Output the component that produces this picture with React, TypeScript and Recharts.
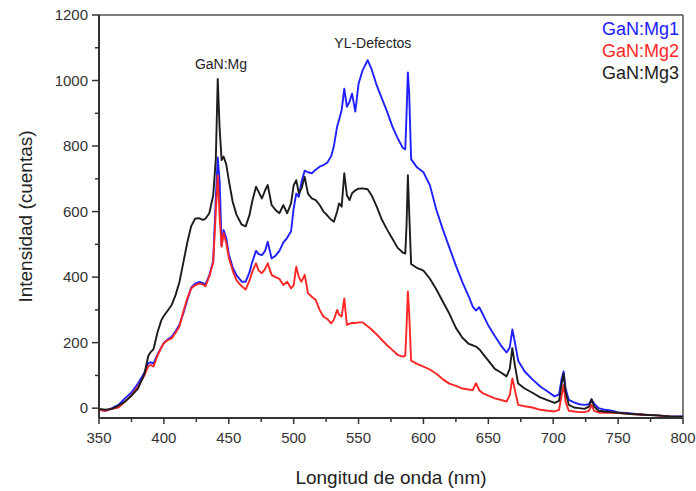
import React from "react";
import { LineChart, Line, XAxis, YAxis, ReferenceLine, ReferenceDot } from "recharts";

// longitud de onda (nm)
const wavelength = [
  350, 355, 360, 365, 370, 375, 380, 385, 388, 390, 392, 395, 398, 400, 403, 406, 409, 412, 415, 418,
  421, 424, 427, 430, 432, 435, 438, 440, 441.5, 443, 444.5, 446, 448, 450, 453, 456, 460, 463, 466, 468,
  471, 473, 475.5, 478, 480, 483, 486, 489, 492, 495, 498, 500, 502, 504, 506, 508.5, 511, 514, 517, 520,
  523, 526, 529, 531, 533.5, 535, 537, 539, 541, 543, 545, 547.5, 550, 553, 557, 560, 564, 568, 572, 576,
  580, 584, 586, 587, 588, 589, 590.5, 595, 600, 605, 610, 615, 620, 625, 630, 635, 638, 640.5, 643, 646,
  650, 655, 660, 664, 666.5, 668.5, 670.5, 673, 678, 684, 690, 696, 701, 704.5, 706.5, 708, 709.5, 712, 716, 720,
  724, 727.5, 729.5, 731.5, 735, 740, 745, 750, 760, 770, 780, 790, 800,
];

const mg1 = [
  -5, -8, 0, 10, 30, 48, 75, 108, 138, 140, 137, 163, 185, 200, 210, 218, 235, 255, 290, 330,
  368, 380, 385, 382, 378, 405, 450, 640, 765, 690, 495, 544, 520, 470, 430, 405, 386, 386, 415, 445,
  480, 470, 467, 480, 508, 457, 465, 480, 505, 520, 540, 610, 655, 645, 690, 725, 720, 717, 728, 737,
  742, 750, 770, 800, 860, 880, 910, 975, 920, 935, 960, 905, 990, 1030, 1062, 1035, 985, 945, 905, 860,
  825, 795, 790, 900, 1025, 960, 760, 735, 720, 680, 605, 545, 490, 435, 385, 340, 310, 298, 308, 285,
  252, 220, 190, 170, 185, 240, 200, 145, 112, 88, 66, 50, 36, 42, 90, 112, 60, 25, 18, 12,
  10, 12, 27, 14, 0, -5, -8, -13, -16, -20, -22, -25, -25,
];

const mg2 = [
  -5, -8, -2, 2, 20, 40, 65, 100, 128, 132, 127, 160, 185, 198, 208, 213, 230, 250, 295, 335,
  365, 375, 380, 378, 372, 402, 445, 600, 710, 580, 493, 534, 505, 460, 420, 390, 372, 362, 390, 415,
  442, 420, 412, 425, 442, 407, 400, 395, 376, 386, 366, 375, 432, 400, 386, 407, 351, 340, 330, 300,
  279, 272, 259, 270, 300, 285, 280, 335, 254, 258, 260, 260, 262, 262, 250, 240, 225, 208, 192, 178,
  163, 157, 160, 250, 356, 290, 145, 135, 127, 118, 105, 88, 75, 68, 60, 57, 55, 76, 55, 45,
  38, 30, 25, 20, 40, 91, 55, 10, 6, 2, -5, -8, -10, -5, 40, 71, 20, -8, -10, -12,
  -12, -8, 10, -8, -13, -14, -14, -15, -18, -20, -22, -25, -26,
];

const mg3 = [
  -2, -5, -2, 8, 20, 38, 60, 105, 160, 172, 180, 230, 268, 282, 298, 315, 345, 385, 445, 505,
  555, 578, 580, 575, 578, 595, 650, 760, 1005, 850, 757, 768, 745, 696, 630, 590, 560, 555, 590, 630,
  676, 660, 640, 665, 681, 620, 605, 595, 620, 595, 625, 680, 696, 656, 670, 706, 655, 640, 635, 620,
  600, 588, 575, 569, 600, 625, 615, 717, 650, 635, 656, 665, 670, 671, 668, 650, 615, 575, 545, 518,
  490, 475, 472, 560, 711, 600, 440, 428, 420, 395, 362, 325, 288, 245, 215, 196, 192, 188, 180, 165,
  145, 120, 108, 97, 120, 183, 130, 75, 60, 47, 33, 24, 16, 22, 75, 105, 50, 10, 2, 0,
  -2, 5, 27, 5, -8, -10, -12, -14, -18, -20, -22, -25, -26,
];

const seriesKeys = ["mg1", "mg2", "mg3"];
const seriesNames = ["GaN:Mg1", "GaN:Mg2", "GaN:Mg3"];
const seriesColors = ["#2020ff", "#ff2626", "#1c1c1c"];

const xTicks = [350, 375, 400, 425, 450, 475, 500, 525, 550, 575, 600, 625, 650, 675, 700, 725, 750, 775, 800];
const yTicks = [0, 100, 200, 300, 400, 500, 600, 700, 800, 900, 1000, 1100, 1200];

const data = wavelength.map((nm, i) => ({ nm, mg1: mg1[i], mg2: mg2[i], mg3: mg3[i] }));

const FONT = "'Liberation Sans', Arial, sans-serif";
const TICK_SIZE = 7;
const TICK_MARGIN = 4;

const XTick = ({ x, y, payload }: any) => {
  const axisY = y - TICK_SIZE - TICK_MARGIN;
  const major = payload.value % 50 === 0;
  return (
    <g>
      <line x1={x} x2={x} y1={axisY} y2={axisY + (major ? 6 : 4)} stroke="#333" strokeWidth={1.5} />
      {major && (
        <text x={x} y={axisY + 25} textAnchor="middle" fontSize={15} fill="#333" fontFamily={FONT}>
          {payload.value}
        </text>
      )}
    </g>
  );
};

const YTick = ({ x, y, payload }: any) => {
  const axisX = x + TICK_SIZE + TICK_MARGIN;
  const major = payload.value % 200 === 0;
  return (
    <g>
      <line x1={axisX} x2={axisX - (major ? 7 : 4)} y1={y} y2={y} stroke="#333" strokeWidth={1.5} />
      {major && (
        <text x={axisX - 11} y={y + 5} textAnchor="end" fontSize={15} fill="#333" fontFamily={FONT}>
          {payload.value}
        </text>
      )}
    </g>
  );
};

const YTitle = (p: any) => {
  const vb = p.viewBox;
  const cx = vb.x + 25;
  const cy = vb.y + vb.height / 2;
  return (
    <text x={cx} y={cy} transform={`rotate(-90 ${cx} ${cy})`} textAnchor="middle" dominantBaseline="central"
      fontSize={19} fill="#222" fontFamily={FONT}>
      Intensidad (cuentas)
    </text>
  );
};

const XTitle = (p: any) => {
  const vb = p.viewBox;
  return (
    <text x={vb.x + vb.width / 2} y={vb.y + 66} textAnchor="middle" fontSize={19} fill="#222" fontFamily={FONT}>
      Longitud de onda (nm)
    </text>
  );
};

const note = (txt: string) => (p: any) => (
  <text x={p.cx} y={p.cy} textAnchor="middle" dominantBaseline="central" fontSize={14} fill="#222" fontFamily={FONT}>
    {txt}
  </text>
);

const App: React.FC = () => {
  return (
    <div style={{ position: "absolute", left: 0, top: 0, width: 696, height: 491, background: "#fff" }}>
      <LineChart width={696} height={491} data={data} margin={{ top: 15, right: 13, bottom: 0, left: 0 }}>
        <XAxis dataKey="nm" type="number" domain={[350, 800]} ticks={xTicks} interval={0} height={73}
          tickSize={TICK_SIZE} tickMargin={TICK_MARGIN} tickLine={false} tick={<XTick />}
          axisLine={{ stroke: "#333", strokeWidth: 2 }} label={XTitle} />
        <YAxis type="number" domain={[-30, 1200]} ticks={yTicks} interval={0} width={99} allowDataOverflow
          tickSize={TICK_SIZE} tickMargin={TICK_MARGIN} tickLine={false} tick={<YTick />}
          axisLine={{ stroke: "#333", strokeWidth: 2 }} label={YTitle} />
        <ReferenceLine y={1200} stroke="#555" strokeWidth={1.5} />
        <ReferenceLine x={800} stroke="#555" strokeWidth={1.5} />
        {seriesKeys.map((k, i) => (
          <Line key={k} dataKey={k} name={seriesNames[i]} type="linear" stroke={seriesColors[i]}
            strokeWidth={1.9} strokeLinejoin="round" dot={false} isAnimationActive={false} />
        ))}
        <ReferenceDot x={444} y={1050} r={0} shape={note("GaN:Mg")} />
        <ReferenceDot x={561} y={1114} r={0} shape={note("YL-Defectos")} />
      </LineChart>
      <div style={{ position: "absolute", top: 18, right: 17, textAlign: "right", fontFamily: FONT, fontSize: 18, lineHeight: "22px" }}>
        {seriesNames.map((n, i) => (
          <div key={n} style={{ color: seriesColors[i] }}>{n}</div>
        ))}
      </div>
    </div>
  );
};

export default App;
